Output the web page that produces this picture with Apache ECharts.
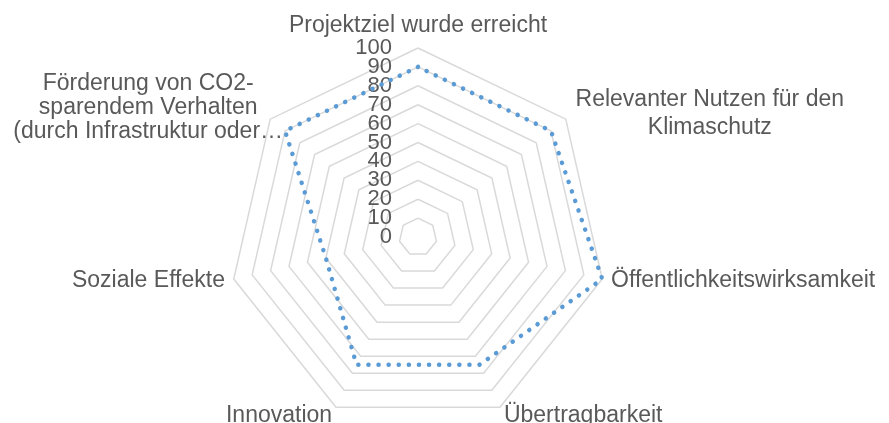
<!DOCTYPE html>
<html>
<head>
<meta charset="utf-8">
<script src="https://cdn.jsdelivr.net/npm/echarts@6/dist/echarts.min.js"></script>
<style>
html,body{margin:0;padding:0;background:#fff;}
#chart{width:889px;height:423px;}
</style>
</head>
<body>
<div id="chart"></div>
<script>
// Indicators in clockwise order starting at the top (as in the reference)
const categories = [
  'Projektziel wurde erreicht',
  'Relevanter Nutzen für den Klimaschutz',
  'Öffentlichkeitswirksamkeit',
  'Übertragbarkeit',
  'Innovation',
  'Soziale Effekte',
  'Förderung von CO2-sparendem Verhalten (durch Infrastruktur oder…'
];
const values = [90, 90, 100, 75, 75, 50, 90];
const axisMin = 0;
const axisMax = 100;
const tickStep = 10;
const tickLabels = ['0', '10', '20', '30', '40', '50', '60', '70', '80', '90', '100'];

// displayed line breaks of the category labels
const labelLines = {
  'Relevanter Nutzen für den Klimaschutz': ['Relevanter Nutzen für den', 'Klimaschutz'],
  'Förderung von CO2-sparendem Verhalten (durch Infrastruktur oder…': ['Förderung von CO2-', 'sparendem Verhalten', '(durch Infrastruktur oder…']
};
const labelStyleKey = {
  'Relevanter Nutzen für den Klimaschutz': 'r',
  'Förderung von CO2-sparendem Verhalten (durch Infrastruktur oder…': 'f'
};

// ECharts places radar indicators counter-clockwise; reverse all but the first
const order = [0].concat(categories.map((_, i) => i).slice(1).reverse());
const textColor = '#595959';
const font = 'Liberation Sans, Arial, sans-serif';

function tickText(value) {
  const idx = Math.round((value - axisMin) / tickStep);
  return tickLabels[idx] !== undefined ? tickLabels[idx] : '';
}

// The tick labels overlap each other (as in the reference); ECharts would hide
// overlapping ones, so even and odd ticks are labelled on two stacked radars.
function makeIndicators(parity) {
  return order.map((i, k) => {
    const ind = { name: categories[i], min: axisMin, max: axisMax };
    if (k === 0) {
      ind.axisLabel = {
        show: true, margin: 26, fontSize: 22, color: textColor, fontFamily: font,
        hideOverlap: false,
        showMinLabel: parity === 0, showMaxLabel: parity === 0,
        formatter: function (v) {
          const idx = Math.round((v - axisMin) / tickStep);
          return idx % 2 === parity ? tickText(v) : '';
        }
      };
    }
    return ind;
  });
}

const baseRadar = {
  center: [418, 237],
  radius: 189,
  startAngle: 90,
  splitNumber: (axisMax - axisMin) / tickStep,
  shape: 'polygon',
  nameGap: 9,
  splitArea: { show: false },
  axisLine: { show: false },
  axisTick: { show: false },
  axisLabel: { show: false }
};

const chart = echarts.init(document.getElementById('chart'), null, { renderer: 'canvas' });
chart.setOption({
  backgroundColor: '#ffffff',
  animation: false,
  radar: [
    Object.assign({}, baseRadar, {
      indicator: makeIndicators(0),
      axisName: {
        color: textColor,
        fontSize: 23,
        fontFamily: font,
        formatter: function (name) {
          const lines = labelLines[name] || [name];
          const key = labelStyleKey[name] || 'a';
          let s = lines.map(l => '{' + key + '|' + l + '}').join('\n');
          if (key === 'f') s += '\n{s| }';
          return s;
        },
        rich: {
          a: { fontSize: 23, color: textColor, fontFamily: font, lineHeight: 24 },
          r: { fontSize: 23, color: textColor, fontFamily: font, lineHeight: 28, width: 274, align: 'center' },
          f: { fontSize: 23, color: textColor, fontFamily: font, lineHeight: 24, width: 230, align: 'center' },
          s: { fontSize: 2, lineHeight: 12, height: 12 }
        }
      },
      splitLine: { lineStyle: { color: '#d9d9d9', width: 1.5 } }
    }),
    Object.assign({}, baseRadar, {
      indicator: makeIndicators(1),
      axisName: { show: false },
      splitLine: { show: false }
    })
  ],
  series: [{
    type: 'radar',
    radarIndex: 0,
    symbol: 'none',
    z: 5,
    lineStyle: { color: '#5b9bd5', width: 4.5, type: [0.1, 10], cap: 'round' },
    data: [{ value: order.map(i => values[i]) }]
  }]
});
</script>
</body>
</html>
